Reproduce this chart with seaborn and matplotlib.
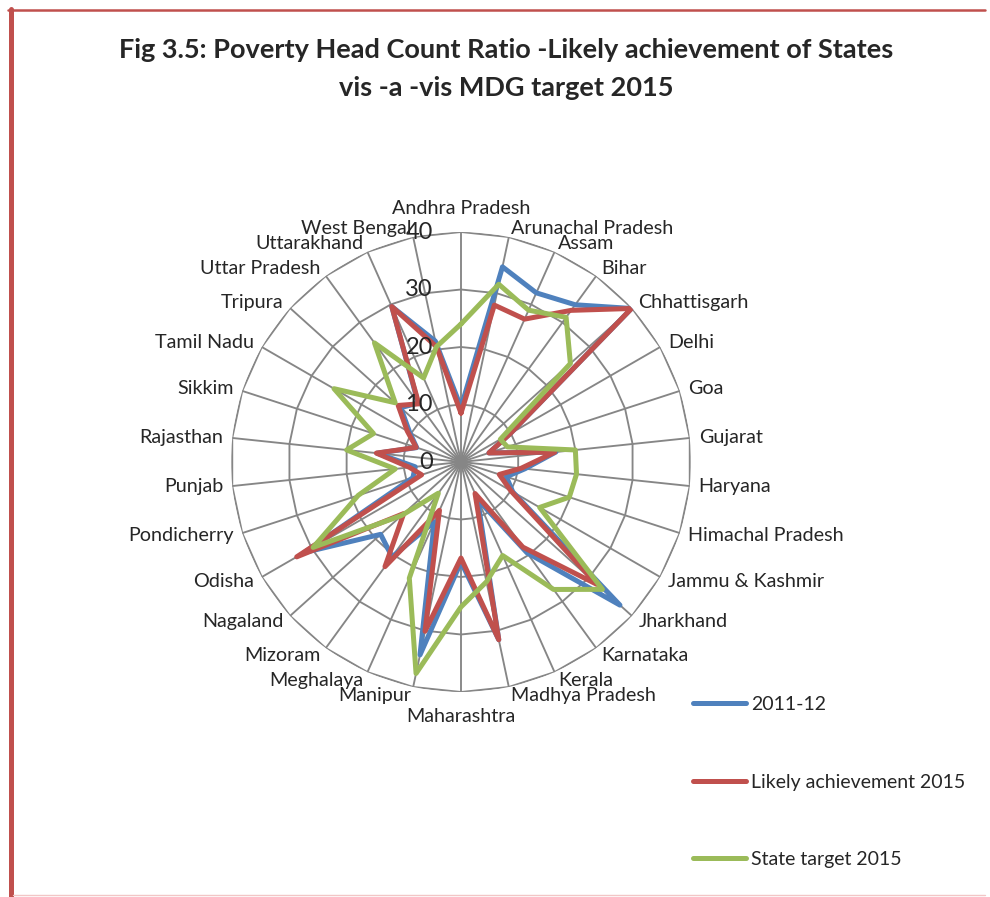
import numpy as np
import pandas as pd
import matplotlib
matplotlib.use('Agg')
import matplotlib.pyplot as plt
from matplotlib.lines import Line2D
import seaborn as sns

# ---- data ----
states = ["Andhra Pradesh", "Arunachal Pradesh", "Assam", "Bihar", "Chhattisgarh",
          "Delhi", "Goa", "Gujarat", "Haryana", "Himachal Pradesh",
          "Jammu & Kashmir", "Jharkhand", "Karnataka", "Kerala", "Madhya Pradesh",
          "Maharashtra", "Manipur", "Meghalaya", "Mizoram", "Nagaland",
          "Odisha", "Pondicherry", "Punjab", "Rajasthan", "Sikkim",
          "Tamil Nadu", "Tripura", "Uttar Pradesh", "Uttarakhand", "West Bengal"]

hcr_2011 = [9.5, 34.7, 32.2, 33.8, 39.9, 9.9, 5.1, 16.6, 11.2, 8.3,
            10.4, 37.2, 19.5, 7.1, 31.6, 17.4, 34.3, 11.4, 20.4, 18.8,
            31.5, 8.8, 8.0, 14.7, 8.1, 10.3, 14.1, 12.7, 29.6, 21.5]
likely_2015 = [8.5, 27.9, 27.2, 32.6, 39.9, 9.9, 5.1, 16.4, 10.5, 7.0,
               10.0, 31.8, 18.3, 6.0, 31.6, 16.7, 30.1, 9.2, 22.5, 13.4,
               33.0, 7.2, 9.0, 14.8, 8.2, 10.8, 14.7, 12.5, 29.6, 20.5]
target_2015 = [24.0, 31.6, 28.9, 31.1, 25.6, 7.9, 8.5, 20.0, 20.2, 19.8,
               15.8, 33.1, 27.4, 17.8, 21.3, 25.2, 37.6, 22.1, 6.7, 13.9,
               29.7, 18.8, 11.5, 20.0, 16.0, 25.5, 15.4, 25.6, 16.0, 20.5]

series_names = ["2011-12", "Likely achievement 2015", "State target 2015"]
series_colors = ["#4F81BD", "#C0504D", "#9BBB59"]
ring_ticks = [0, 10, 20, 30, 40]

sns.set_style("white")
plt.rcParams['font.family'] = ['Lato', 'DejaVu Sans']

n = len(states)
angles = np.linspace(0, 2 * np.pi, n, endpoint=False)
angles_closed = np.append(angles, 2 * np.pi)

# long-form table, each polygon closed back to its first state
rows = []
for name, vals in zip(series_names, [hcr_2011, likely_2015, target_2015]):
    for a, v in zip(angles_closed, list(vals) + [vals[0]]):
        rows.append({'theta': a, 'value': v, 'series': name})
df = pd.DataFrame(rows)

fig = plt.figure(figsize=(9.9, 8.97), dpi=100)
ax = fig.add_axes([231 / 990, 205 / 897, 460 / 990, 460 / 897], projection='polar')
ax.set_theta_zero_location('N')
ax.set_theta_direction(-1)
ax.grid(False)
ax.spines['polar'].set_visible(False)

# polygon grid like the Excel radar chart
grid_color = '#868686'
for r in ring_ticks[1:]:
    ax.plot(angles_closed, [r] * (n + 1), color=grid_color, lw=1.35, zorder=1)
for a in angles:
    ax.plot([a, a], [0, ring_ticks[-1]], color=grid_color, lw=1.35, zorder=1)

sns.lineplot(data=df, x='theta', y='value', hue='series', hue_order=series_names,
             palette=series_colors, sort=False, estimator=None, linewidth=3.6,
             ax=ax, zorder=3)

ax.set_xticks([])
ax.set_yticks([])
ax.set_xlabel('')
ax.set_ylabel('')
ax.set_ylim(0, ring_ticks[-1])

# category labels outside the outer ring
for a, label in zip(angles, states):
    s, c = np.sin(a), np.cos(a)
    if abs(s) < 0.05:
        ha, d = 'center', 24
    elif s > 0:
        ha, d = 'left', 9
    else:
        ha, d = 'right', 9
    ax.annotate(label, xy=(a, ring_ticks[-1]), xytext=(d * s * 0.72, d * c * 0.72),
                textcoords='offset points', ha=ha, va='center', fontsize=14.2,
                annotation_clip=False)

# radial value labels
for r in ring_ticks:
    ax.annotate(str(r), xy=(0, r), xytext=(-28 * 0.72, 0), textcoords='offset points',
                ha='right', va='center', fontsize=17, annotation_clip=False, zorder=5)

sns.move_legend(ax, 'center left', bbox_to_anchor=(693 / 990, 1 - 782 / 897),
                bbox_transform=fig.transFigure, frameon=False, title=None,
                fontsize=14, handlelength=2.75, handletextpad=0.25,
                labelspacing=3.1, borderpad=0, borderaxespad=0)

fig.text(0.511, 1 - 50 / 897, "Fig 3.5: Poverty Head Count Ratio -Likely achievement of States",
         ha='center', va='center', fontsize=19.5, fontweight='bold')
fig.text(0.511, 1 - 88 / 897, "vis -a -vis MDG target 2015",
         ha='center', va='center', fontsize=19.5, fontweight='bold')

# frame lines of the original figure box
fig.add_artist(Line2D([10.5 / 990, 10.5 / 990], [0, 1 - 9 / 897], transform=fig.transFigure,
                      color='#C0504D', lw=3.6))
fig.add_artist(Line2D([8 / 990, 985 / 990], [1 - 10 / 897, 1 - 10 / 897], transform=fig.transFigure,
                      color='#C0504D', lw=1.8))
fig.add_artist(Line2D([13 / 990, 985 / 990], [1 - 895 / 897, 1 - 895 / 897], transform=fig.transFigure,
                      color='#F2C6C6', lw=1))

fig.savefig('out.png', dpi=100)
plt.close(fig)
